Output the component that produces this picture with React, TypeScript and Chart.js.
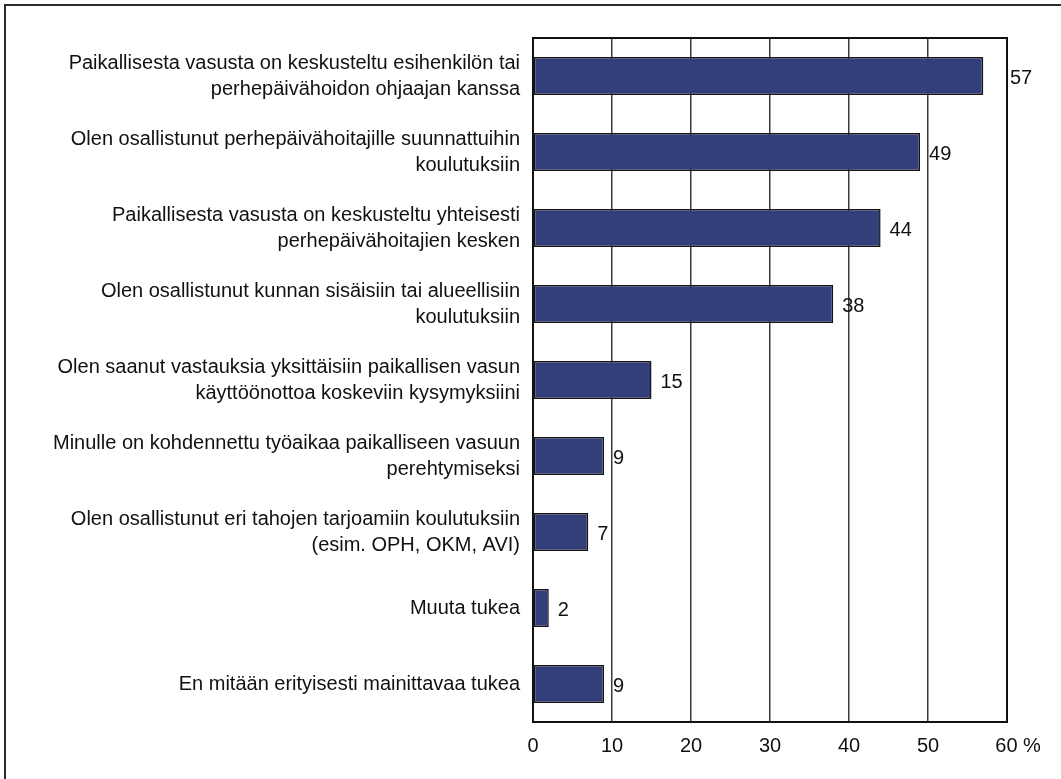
import React, { useEffect, useRef } from "react";
import { Chart, registerables } from "chart.js";

Chart.register(...registerables);

const categories: (string | string[])[] = [
  ["Paikallisesta vasusta on keskusteltu esihenkilön tai", "perhepäivähoidon ohjaajan kanssa"],
  ["Olen osallistunut perhepäivähoitajille suunnattuihin", "koulutuksiin"],
  ["Paikallisesta vasusta on keskusteltu yhteisesti", "perhepäivähoitajien kesken"],
  ["Olen osallistunut kunnan sisäisiin tai alueellisiin", "koulutuksiin"],
  ["Olen saanut vastauksia yksittäisiin paikallisen vasun", "käyttöönottoa koskeviin kysymyksiini"],
  ["Minulle on kohdennettu työaikaa paikalliseen vasuun", "perehtymiseksi"],
  ["Olen osallistunut eri tahojen tarjoamiin koulutuksiin", "(esim. OPH, OKM, AVI)"],
  "Muuta tukea",
  "En mitään erityisesti mainittavaa tukea",
];

const values: number[] = [57, 49, 44, 38, 15, 9, 7, 2, 9];

const xTicks: number[] = [0, 10, 20, 30, 40, 50, 60];
const unitLabel = "%";

const FONT = "'Liberation Sans', Arial, sans-serif";
const FONT_SIZE = 20;

const framePlugin = {
  id: "frame",
  beforeDraw(chart: any) {
    const { ctx, width, height } = chart;
    ctx.save();
    ctx.fillStyle = "#ffffff";
    ctx.fillRect(0, 0, width, height);
    ctx.strokeStyle = "#2a2a2a";
    ctx.lineWidth = 2;
    ctx.beginPath();
    ctx.moveTo(width, 5);
    ctx.lineTo(5, 5);
    ctx.lineTo(5, height);
    ctx.stroke();
    ctx.restore();
  },
  afterDraw(chart: any) {
    const { ctx, chartArea } = chart;
    ctx.save();
    ctx.strokeStyle = "#111111";
    ctx.lineWidth = 2;
    ctx.strokeRect(chartArea.left, chartArea.top, chartArea.right - chartArea.left, chartArea.bottom - chartArea.top);
    // value labels
    ctx.font = `${FONT_SIZE}px ${FONT}`;
    ctx.fillStyle = "#111111";
    ctx.textBaseline = "middle";
    ctx.textAlign = "left";
    const meta = chart.getDatasetMeta(0);
    meta.data.forEach((bar: any, i: number) => {
      const txt = String(values[i]);
      const w = ctx.measureText(txt).width;
      let x = bar.x + 9;
      if (x + w > chartArea.right - 2) x = chartArea.right + 3;
      ctx.fillText(txt, x, bar.y + 2);
    });
    ctx.restore();
  },
};

export default function App() {
  const ref = useRef<HTMLCanvasElement | null>(null);

  useEffect(() => {
    document.body.style.margin = "0";
    if (!ref.current) return;
    const chart = new Chart(ref.current, {
      type: "bar",
      data: {
        labels: categories,
        datasets: [
          {
            data: values,
            backgroundColor: "#323f78",
            borderColor: "#151515",
            borderWidth: 1.5,
            borderSkipped: false,
            barPercentage: 0.5,
            categoryPercentage: 1,
          },
        ],
      },
      options: {
        indexAxis: "y",
        animation: false,
        responsive: true,
        maintainAspectRatio: false,
        layout: { padding: { left: 0, top: 38, right: 54, bottom: 0 } },
        plugins: {
          legend: { display: false },
          tooltip: { enabled: false },
          title: { display: false },
        },
        scales: {
          x: {
            type: "linear",
            min: 0,
            max: 60,
            afterFit: (scale: any) => {
              scale.height = 57;
            },
            afterBuildTicks: (scale: any) => {
              scale.ticks = xTicks.map((v) => ({ value: v }));
            },
            grid: {
              color: "#3a3a3a",
              lineWidth: 1.5,
              drawTicks: false,
            },
            border: { display: true, color: "#111111", width: 2 },
            ticks: {
              padding: 12,
              color: "#111111",
              font: { family: FONT, size: FONT_SIZE },
              callback: (v: any) => (v === 60 ? `    ${v} ${unitLabel}` : String(v)),
            },
          },
          y: {
            afterFit: (scale: any) => {
              scale.width = 533;
            },
            grid: { display: false, drawTicks: false },
            border: { display: true, color: "#111111", width: 2 },
            ticks: {
              autoSkip: false,
              padding: 13,
              color: "#111111",
              font: { family: FONT, size: FONT_SIZE, lineHeight: 1.3 },
            },
          },
        },
      },
      plugins: [framePlugin],
    });
    return () => chart.destroy();
  }, []);

  return (
    <div style={{ position: "relative", width: 1061, height: 779 }}>
      <canvas ref={ref} />
    </div>
  );
}
